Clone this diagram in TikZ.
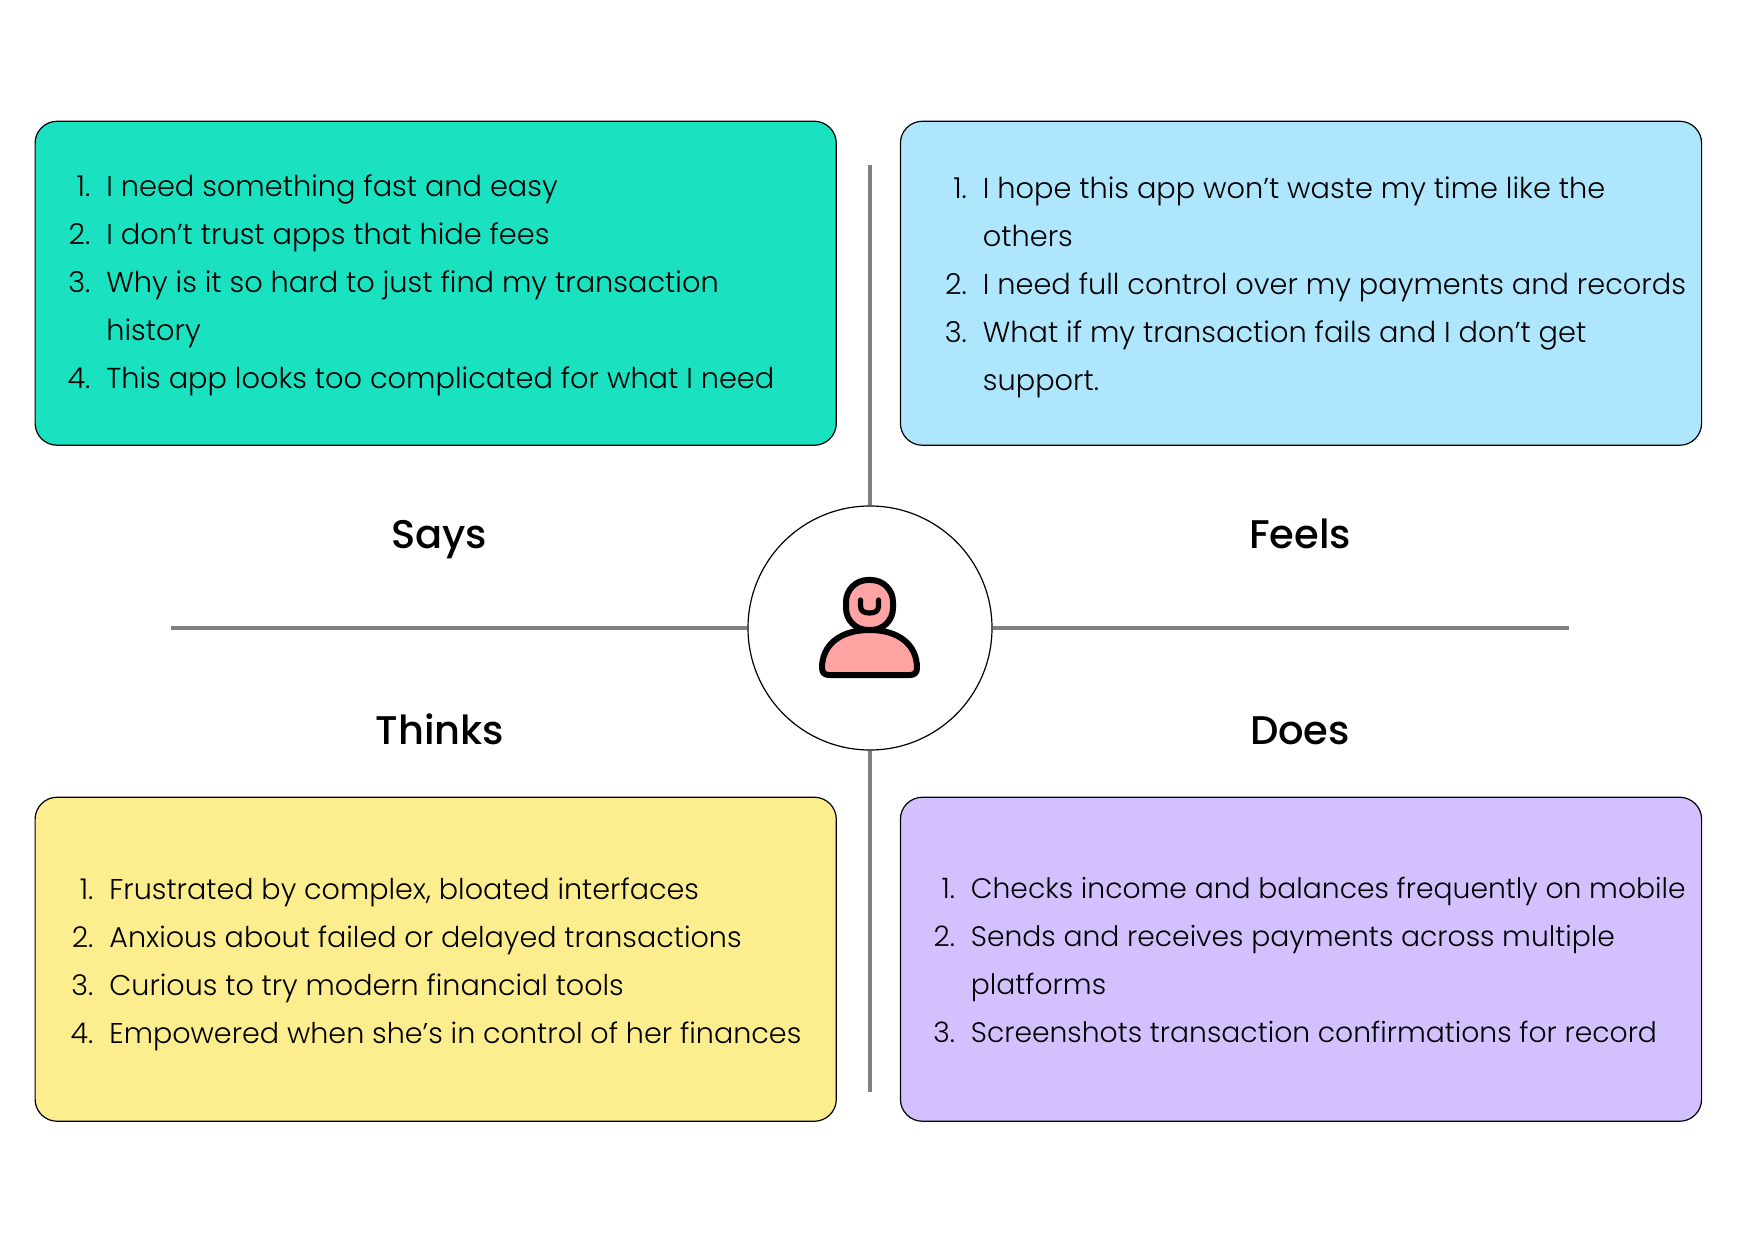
\documentclass[tikz,border=0pt]{standalone}
\usepackage{fontspec}
\setmainfont{Poppins Light}
\newfontfamily\headfont{Poppins Medium}
\usetikzlibrary{positioning}
\definecolor{saysteal}{HTML}{1AE2C0}
\definecolor{feelsblue}{HTML}{AEE6FD}
\definecolor{thinksyellow}{HTML}{FCEE8F}
\definecolor{doespurple}{HTML}{D3C0FF}
\definecolor{facepink}{HTML}{FFA3A3}
\tikzset{
  card/.style={draw=black, line width=0.6pt, rounded corners=11pt, minimum width=400.6pt, minimum height=162pt, inner sep=0pt},
  listtext/.style={anchor=north west, align=left, inner sep=0pt, font=\fontsize{14.4}{24}\selectfont},
  quadlabel/.style={anchor=base, font=\headfont\fontsize{20}{24}\selectfont, inner sep=0pt},
  axisline/.style={draw=gray, line width=2pt},
  facestroke/.style={draw=black, line width=3pt, line join=round, line cap=round}
}
\newcommand{\numitem}[1]{\makebox[19pt][r]{#1}\hspace{8pt}}
\begin{document}
\begin{tikzpicture}[x=0.5pt,y=-0.5pt]
\useasboundingbox (0,0) rectangle (1740,1256);
%%%% axis lines
\node[draw=black, fill=white, circle, line width=0.6pt, minimum size=122pt, inner sep=0pt] (hub) at (870,628) {};
\coordinate (axisTop) at (870,165);
\coordinate (axisBottom) at (870,1092);
\coordinate (axisLeft) at (171,628);
\coordinate (axisRight) at (1569,628);
\draw[axisline] (axisTop) -- (hub);
\draw[axisline] (axisBottom) -- (hub);
\draw[axisline] (axisLeft) -- (hub);
\draw[axisline] (axisRight) -- (hub);
%%%% cards
\node[card, fill=saysteal] (saysBox) at (435.7,283.25) {};
\node[card, fill=feelsblue] (feelsBox) at (1301,283.25) {};
\node[card, fill=thinksyellow] (thinksBox) at (435.7,959.25) {};
\node[card, fill=doespurple] (doesBox) at (1301,959.25) {};
%%%% lists
\node[listtext] (saysList) at (52,174) {\numitem{1.}I need something fast and easy\\
\numitem{2.}I don’t trust apps that hide fees\\
\numitem{3.}Why is it so hard to just find my transaction\\
\numitem{}history\\
\numitem{4.}This app looks too complicated for what I need};
\node[listtext] (feelsList) at (928.5,176) {\numitem{1.}I hope this app won’t waste my time like the\\
\numitem{}others\\
\numitem{2.}I need full control over my payments and records\\
\numitem{3.}What if my transaction fails and I don’t get\\
\numitem{}support.};
\node[listtext, font=\fontsize{14.3}{24}\selectfont] (thinksList) at (55,877.5) {\numitem{1.}Frustrated by complex, bloated interfaces\\
\numitem{2.}Anxious about failed or delayed transactions\\
\numitem{3.}Curious to try modern financial tools\\
\numitem{4.}Empowered when she’s in control of her finances};
\node[listtext, font=\fontsize{14.1}{24}\selectfont] (doesList) at (916.5,877) {\numitem{1.}Checks income and balances frequently on mobile\\
\numitem{2.}Sends and receives payments across multiple\\
\numitem{}platforms\\
\numitem{3.}Screenshots transaction confirmations for record};
%%%% labels
\node[quadlabel] (saysLabel) at (439,549) {Says};
\node[quadlabel] (feelsLabel) at (1300,549) {Feels};
\node[quadlabel] (thinksLabel) at (440,744) {Thinks};
\node[quadlabel] (doesLabel) at (1300,744) {Does};
%%%% person
\draw[facestroke, fill=facepink, rounded corners=11pt] (846,580) rectangle (893,630);
\draw[facestroke, fill=facepink] (822,668) .. controls (822,645) and (840,630) .. (869.5,630) .. controls (899,630) and (917,645) .. (917,668) .. controls (917,673) and (914,675) .. (910,675) -- (829,675) .. controls (825,675) and (822,673) .. (822,668) -- cycle;
\draw[facestroke, line width=2.6pt] (860.5,600) -- (860.5,606) .. controls (860.5,611) and (864,613) .. (869.5,613) .. controls (875,613) and (878.5,611) .. (878.5,606) -- (878.5,600);
\end{tikzpicture}
\end{document}
